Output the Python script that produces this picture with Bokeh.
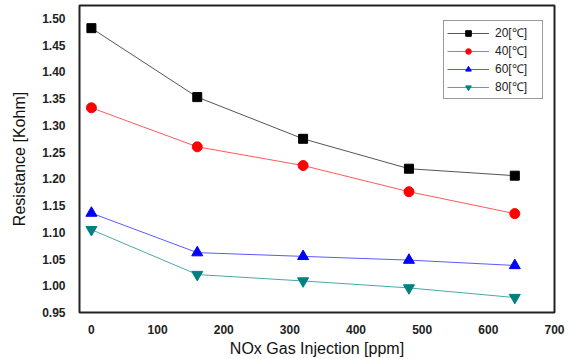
from bokeh.plotting import figure
from bokeh.models import Range1d, Legend, LegendItem, FixedTicker, NumeralTickFormatter
from bokeh.embed import file_html
from bokeh.resources import INLINE

x = [0, 160, 320, 480, 640]
r20 = [1.482, 1.353, 1.275, 1.219, 1.206]
r40 = [1.333, 1.260, 1.225, 1.176, 1.135]
r60 = [1.136, 1.062, 1.055, 1.048, 1.038]
r80 = [1.105, 1.021, 1.009, 0.996, 0.978]
labels = ["20[℃]", "40[℃]", "60[℃]", "80[℃]"]
x_ticks = [0, 100, 200, 300, 400, 500, 600, 700]
y_ticks = [0.95, 1.00, 1.05, 1.10, 1.15, 1.20, 1.25, 1.30, 1.35, 1.40, 1.45, 1.50]

p = figure(width=575, height=351, output_backend="svg", toolbar_location=None,
           x_range=Range1d(-18, 700), y_range=Range1d(0.95, 1.5244),
           min_border_left=79, min_border_right=21, min_border_top=5, min_border_bottom=39)
p.frame_width = 475
p.frame_height = 307

p.xgrid.visible = False
p.ygrid.visible = False
p.outline_line_color = "#222222"
p.outline_line_width = 2
p.background_fill_color = "white"
p.border_fill_color = "white"

for ax in (p.xaxis[0], p.yaxis[0]):
    ax.axis_line_color = None
    ax.major_tick_line_color = None
    ax.minor_tick_line_color = None
    ax.major_label_text_font = "Liberation Sans"
    ax.major_label_text_font_style = "bold"
    ax.major_label_text_font_size = "12px"
    ax.major_label_text_color = "#222222"
    ax.axis_label_text_font = "Liberation Sans"
    ax.axis_label_text_font_style = "normal"
    ax.axis_label_text_font_size = "16px"
    ax.axis_label_text_color = "#111111"

p.xaxis.ticker = FixedTicker(ticks=x_ticks)
p.yaxis.ticker = FixedTicker(ticks=y_ticks)
p.yaxis.formatter = NumeralTickFormatter(format="0.00")
p.xaxis.axis_label = "NOx Gas Injection [ppm]"
p.yaxis.axis_label = "Resistance [Kohm]"
p.xaxis.major_label_standoff = 6
p.yaxis.major_label_standoff = 8
p.xaxis.axis_label_standoff = 3
p.yaxis.axis_label_standoff = 11

series = [
    (r20, "#555555", "black", "square", 9),
    (r40, "#ff5a5a", "#ff0000", "circle", 10),
    (r60, "#5a5aff", "#0000ff", "triangle", 11),
    (r80, "#4aa8a8", "#008080", "inverted_triangle", 11),
]
items = []
for (vals, lc, mc, mk, sz), lab in zip(series, labels):
    ln = p.line(x, vals, line_color=lc, line_width=1)
    sc = p.scatter(x, vals, marker=mk, size=sz, fill_color=mc, line_color=mc)
    items.append(LegendItem(label=lab, renderers=[ln, sc]))

legend = Legend(items=items, location=(364, 213))
legend.label_text_font = "Liberation Sans"
legend.label_text_font_size = "12px"
legend.label_text_color = "#222222"
legend.glyph_width = 42
legend.glyph_height = 14
legend.label_height = 14
legend.label_width = 44
legend.spacing = 1
legend.padding = 3
legend.margin = 0
legend.border_line_color = "#333333"
legend.border_line_width = 1
legend.label_standoff = 6
legend.background_fill_alpha = 1.0
p.add_layout(legend, "center")

open("out.html", "w").write(file_html(p, INLINE))
